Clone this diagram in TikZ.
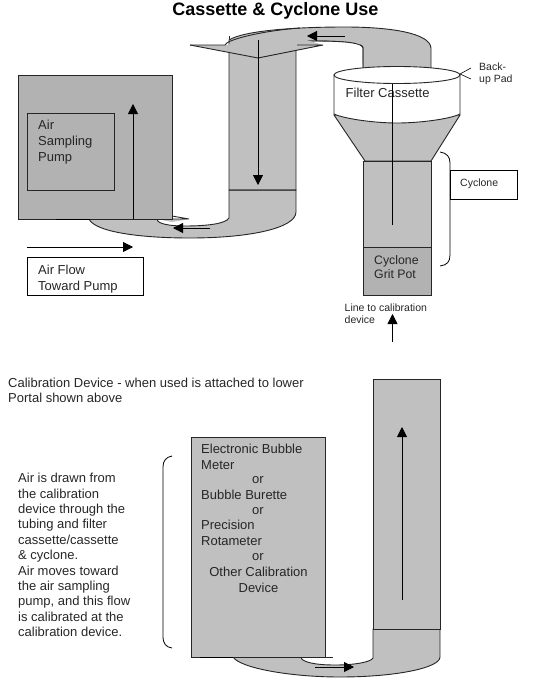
\documentclass[tikz,border=0pt]{standalone}
\usepackage{fontspec}
\setmainfont{Liberation Sans}
\usetikzlibrary{arrows.meta,shapes.geometric}
\definecolor{gA}{HTML}{C0C0C0}
\definecolor{gB}{HTML}{B2B2B2}
\tikzset{
  part/.style={draw=black!85,line width=.9pt,fill=gA},
  partB/.style={draw=black!85,line width=.9pt,fill=gB},
  flow/.style={draw=black,line width=.8pt,-{Triangle[length=10pt,width=10pt]}},
  plain/.style={draw=black,line width=.8pt},
  lbl/.style={inner sep=0pt,anchor=north west,align=left,font=\fontsize{13}{15.8}\selectfont,text=black!85},
  ctr/.style={inner sep=0pt,font=\fontsize{13}{15.6}\selectfont,text=black!85,align=center},
  box/.style={draw=black,line width=.8pt,fill=white}
}
\begin{document}
\begin{tikzpicture}[x=1pt,y=-1pt]
\useasboundingbox (0,0) rectangle (541,680);
\node[font=\bfseries\fontsize{18}{20}\selectfont,inner sep=0pt,anchor=base] (title) at (275.5,15) {Cassette \& Cyclone Use};
% upper tube
\path[part] (229,190) -- (229,40) .. controls (245,30) and (300,27) .. (345,27) .. controls (390,27) and (430,33) .. (431,48) -- (431,70) -- (363,70) -- (363,48) .. controls (363,43) and (345,41) .. (310,41) .. controls (296,41) and (291,43) .. (292,45) -- (296,45) -- (296,190) -- cycle;
\path[fill=white] (292,45) .. controls (296,41) and (345,40) .. (360,44) -- (363,70) -- (363,70) -- (297,70) -- (297,47) -- cycle;
\draw[line width=.9pt,black!85] (292,45) .. controls (292,42) and (300,41) .. (315,41) .. controls (345,41) and (363,43) .. (363,48) -- (363,70);
\path[fill=gA] (190,45) -- (228,45) -- (240,38) -- (300,38) -- (323,45) -- (258,58) -- cycle;
\draw[line width=.9pt,black!85] (190,45) -- (258,58) -- (323,45) -- (297,45);
\draw[line width=.9pt,black!85] (190,45) -- (225,45) .. controls (226,40) and (260,31) .. (300,28);
\draw[line width=.9pt,black!85] (229,39) -- (229,36);
% lower U
\path[part] (89,219) .. controls (95,232) and (140,238) .. (190,238) .. controls (250,238) and (296,228) .. (296,212) -- (296,190) -- (229,190) -- (229,218) .. controls (226,224) and (205,226) .. (185,226) .. controls (170,226) and (157,224) .. (157,219) -- cycle;
\draw[part] (229,190) rectangle (296,190);
\path[fill=gA] (157,219) -- (189,219) -- (172,222) -- cycle;
\draw[line width=.9pt,black!85] (157,219) -- (189,219) -- (172,216);
% pump
\node[partB,minimum width=154pt,minimum height=144pt,inner sep=0pt] (pump) at (95,147) {};
\node[partB,minimum width=87pt,minimum height=77pt,inner sep=0pt] (pumpin) at (70.5,151.5) {};
\draw[black,line width=1.4pt] (56,219.5) -- (90,219.5);
\node[lbl] (t1) at (38,120) {Air\\Sampling\\Pump};
\coordinate (a1s) at (133,219); \coordinate (a1e) at (133,104);
\draw[flow] (a1s) -- (a1e);
\coordinate (a2s) at (258,40); \coordinate (a2e) at (258,185);
\draw[flow] (a2s) -- (a2e);
\coordinate (a3s) at (345,36); \coordinate (a3e) at (307,36);
\draw[flow] (a3s) -- (a3e);
\coordinate (a4s) at (210,228); \coordinate (a4e) at (173,228);
\draw[flow] (a4s) -- (a4e);
\coordinate (a5s) at (27,247); \coordinate (a5e) at (133,247);
\draw[flow] (a5s) -- (a5e);
\node[box,minimum width=116pt,minimum height=38pt,inner sep=0pt] (afb) at (85,276) {};
\node[lbl] at (38,265) {Air Flow\\Toward Pump};
% cyclone
\draw[part] (334,115) -- (365,161) -- (431,161) -- (460,115) -- cycle;
\node[part,minimum width=68pt,minimum height=86pt,inner sep=0pt] (cyc) at (397,204) {};
\node[partB,minimum width=68pt,minimum height=48pt,inner sep=0pt] (grit) at (397,271) {};
% cassette
\draw[line width=.9pt,black!85,fill=white] (334,75) -- (334,114) .. controls (345,119) and (375,123) .. (397,123) .. controls (420,123) and (450,119) .. (460,114) -- (460,75) -- cycle;
\node[draw=black!85,line width=.9pt,fill=white,ellipse,minimum width=126pt,minimum height=17pt,inner sep=0pt] (cas) at (397,75) {};
\node[lbl,font=\fontsize{13}{15}\selectfont] at (345.5,88) {Filter Cassette};
\coordinate (a6s) at (392.5,225); \coordinate (a6e) at (392.5,84);
\draw[plain] (a6s) -- (a6e);
\node[lbl,font=\fontsize{12.3}{14}\selectfont] at (374,255) {Cyclone\\Grit Pot};
\coordinate (bp) at (460,74);
\coordinate (bp1) at (471,68); \coordinate (bp2) at (471,79);
\draw[line width=.6pt] (bp1) -- (bp) -- (bp2);
\node[lbl,font=\fontsize{10.5}{11.5}\selectfont] at (479,63) {Back-\\up Pad};
\draw[plain] (440,152) .. controls (447,153) and (450,157) .. (450,163) -- (450,255) .. controls (450,262) and (447,265) .. (440,266);
\node[box,minimum width=67pt,minimum height=29pt,inner sep=0pt] (cb) at (483.5,185) {};
\node[lbl,font=\fontsize{10.5}{12.5}\selectfont] at (460,178.5) {Cyclone};
\node[lbl,font=\fontsize{10.5}{12}\selectfont] at (344.5,304) {Line to calibration\\device};
\coordinate (a7s) at (392.5,342); \coordinate (a7e) at (392.5,314);
\draw[flow] (a7s) -- (a7e);
% bottom text
\node[lbl,font=\fontsize{13}{14.5}\selectfont] at (8,378) {Calibration Device - when used is attached to lower\\Portal shown above};
\node[lbl,font=\fontsize{13}{15.4}\selectfont] at (18,473) {Air is drawn from\\the calibration\\device through the\\tubing and filter\\cassette/cassette\\\& cyclone.\\Air moves toward\\the air sampling\\pump, and this flow\\is calibrated at the\\calibration device.};
\draw[plain] (172,456) .. controls (166,457) and (163,461) .. (163,467) -- (163,636) .. controls (163,644) and (166,647) .. (172,648);
% bottom device
\path[part] (233,657) .. controls (240,668) and (290,677) .. (340,677) .. controls (395,677) and (440,668) .. (440,657) -- (440,629) -- (373,629) -- (373,658) .. controls (371,662) and (355,665) .. (335,665) .. controls (315,665) and (301,662) .. (301,657) -- cycle;
\draw[line width=.9pt,black!85] (301,657) -- (333,657);
\node[part,minimum width=134pt,minimum height=220pt,inner sep=0pt] (dev) at (258,547) {};
\draw[black,line width=1.4pt] (200,657.5) -- (233,657.5);
\node[part,minimum width=67pt,minimum height=250pt,inner sep=0pt] (tube) at (406.5,504) {};
\coordinate (a8s) at (402,600); \coordinate (a8e) at (402,427);
\draw[flow] (a8s) -- (a8e);
\coordinate (a9s) at (315,667); \coordinate (a9e) at (354,667);
\draw[flow] (a9s) -- (a9e);
\node[lbl] at (201,444) {Electronic Bubble\\Meter};
\node[ctr] at (258,480) {or};
\node[ctr,anchor=west] at (201,495) {Bubble Burette};
\node[ctr] at (258,511) {or};
\node[lbl] at (201,520) {Precision\\Rotameter};
\node[ctr] at (258,557) {or};
\node[ctr] at (258.5,580) {Other Calibration\\Device};
\end{tikzpicture}
\end{document}
